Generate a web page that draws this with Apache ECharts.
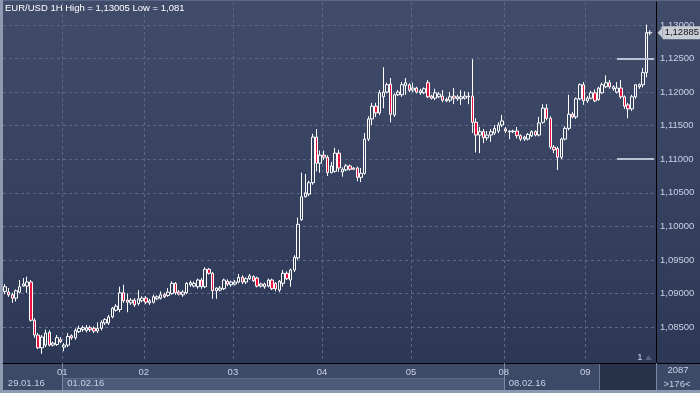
<!DOCTYPE html>
<html><head><meta charset="utf-8">
<script src="https://cdn.jsdelivr.net/npm/echarts@6/dist/echarts.min.js"></script>
<style>
html,body{margin:0;padding:0;background:#2c3856;}
#wrap{position:relative;width:700px;height:393px;overflow:hidden;}
.l{position:absolute;box-sizing:border-box;}
#chart{position:absolute;left:0;top:0;width:700px;height:393px;}
</style></head><body>
<div id="wrap">
<div class="l" style="left:0;top:0;width:700px;height:363px;background:linear-gradient(#404c6a,#2c3856);"></div>
<div class="l" style="left:0;top:363px;width:700px;height:30px;background:#3c4967;"></div>
<div class="l" style="left:62px;top:378px;width:442px;height:12px;background:#4b5a79;border-top:1px solid #5c6b89;"></div>
<div class="l" style="left:599px;top:364px;width:57px;height:26px;background:#27314a;border-left:1px solid #6b7894;"></div>
<div class="l" style="left:0;top:0;width:700px;height:1px;background:#5a6784;"></div>
<div class="l" style="left:0;top:0;width:3px;height:393px;background:#8d9ab2;"></div>
<div class="l" style="left:0;top:390px;width:700px;height:3px;background:#8d9ab2;"></div>
<div class="l" style="left:656px;top:359px;width:1px;height:31px;background:#000;"></div>
<div class="l" style="left:656px;top:363px;width:44px;height:1px;background:#000;"></div>
<div id="chart"></div>
</div>
<script>
// ---- data ----
const dayLabels = ['29','01','02','03','04','05','08','09'];
const dayBarCounts = [16,22,24,24,24,25,22,17];
const weekStartDays = ['29','01','08'];
const weekStartLabels = ['29.01.16','01.02.16','08.02.16'];

const opens = [
 1.0903,1.0902,1.0898,1.0893,1.0902,1.0911,1.0911,1.0917,1.0860,1.0838,1.0819,1.0823,1.0842,1.0823,1.0824,1.0831,
 1.0820,1.0823,1.0837,1.0834,1.0843,1.0846,1.0845,1.0849,1.0848,1.0844,1.0848,1.0856,1.0856,1.0865,1.0875,1.0876,1.0901,1.0890,1.0886,1.0890,1.0885,1.0889,
 1.0893,1.0886,1.0887,1.0892,1.0893,1.0898,1.0897,1.0900,1.0915,1.0902,1.0898,1.0901,1.0913,1.0911,1.0910,1.0920,1.0910,1.0936,1.0930,1.0904,1.0905,1.0907,1.0918,1.0913,
 1.0914,1.0917,1.0924,1.0917,1.0922,1.0925,1.0923,1.0911,1.0910,1.0911,1.0920,1.0915,1.0905,1.0915,1.0930,1.0920,1.0935,1.0953,1.1010,1.1044,1.1048,1.1065,1.1133,1.1094,
 1.1106,1.1103,1.1080,1.1082,1.1109,1.1081,1.1084,1.1090,1.1087,1.1087,1.1073,1.1079,1.1130,1.1160,1.1179,1.1169,1.1193,1.1200,1.1212,1.1166,1.1196,1.1196,1.1210,1.1211,
 1.1203,1.1206,1.1199,1.1199,1.1214,1.1194,1.1191,1.1193,1.1194,1.1187,1.1188,1.1194,1.1190,1.1190,1.1191,1.1193,1.1194,1.1155,1.1136,1.1141,1.1132,1.1136,1.1139,1.1142,1.1151,
 1.1145,1.1141,1.1141,1.1142,1.1135,1.1130,1.1130,1.1135,1.1141,1.1136,1.1155,1.1176,1.1161,1.1118,1.1116,1.1103,1.1130,1.1146,1.1167,1.1163,1.1190,1.1211,
 1.1187,1.1191,1.1199,1.1189,1.1199,1.1208,1.1214,1.1205,1.1200,1.1206,1.1193,1.1181,1.1175,1.1193,1.1208,1.1211,1.1229
];
const closes = [
 1.0910,1.0898,1.0893,1.0904,1.0910,1.0914,1.0917,1.0860,1.0838,1.0819,1.0835,1.0841,1.0823,1.0826,1.0834,1.0828,
 1.0823,1.0836,1.0834,1.0845,1.0848,1.0849,1.0849,1.0846,1.0844,1.0848,1.0857,1.0861,1.0865,1.0878,1.0881,1.0901,1.0889,1.0887,1.0890,1.0883,1.0892,1.0893,
 1.0887,1.0889,1.0895,1.0895,1.0898,1.0895,1.0902,1.0915,1.0901,1.0899,1.0902,1.0915,1.0916,1.0915,1.0920,1.0910,1.0936,1.0930,1.0904,1.0908,1.0908,1.0920,1.0914,1.0917,
 1.0917,1.0924,1.0917,1.0922,1.0926,1.0919,1.0911,1.0914,1.0914,1.0920,1.0907,1.0907,1.0918,1.0930,1.0922,1.0935,1.0954,1.1003,1.1044,1.1050,1.1065,1.1133,1.1094,1.1106,
 1.1103,1.1080,1.1090,1.1109,1.1087,1.1085,1.1090,1.1085,1.1085,1.1073,1.1079,1.1130,1.1160,1.1179,1.1169,1.1199,1.1200,1.1211,1.1167,1.1196,1.1200,1.1211,1.1214,1.1203,
 1.1206,1.1200,1.1202,1.1205,1.1193,1.1191,1.1199,1.1197,1.1188,1.1189,1.1193,1.1191,1.1193,1.1193,1.1194,1.1194,1.1155,1.1136,1.1141,1.1132,1.1136,1.1141,1.1146,1.1151,1.1157,
 1.1142,1.1142,1.1142,1.1135,1.1130,1.1133,1.1137,1.1141,1.1136,1.1154,1.1176,1.1161,1.1118,1.1114,1.1103,1.1130,1.1146,1.1167,1.1163,1.1190,1.1211,1.1187,
 1.1191,1.1199,1.1187,1.1206,1.1211,1.1214,1.1208,1.1208,1.1206,1.1193,1.1179,1.1175,1.1193,1.1211,1.1211,1.1229,1.12885
];
const lows = [
 1.0899,1.0895,1.0886,1.0888,1.0900,1.0910,1.0901,1.0858,1.0834,1.0817,1.0810,1.0820,1.0821,1.0821,1.0822,1.0826,
 1.0814,1.0820,1.0831,1.0831,1.0841,1.0843,1.0842,1.0843,1.0841,1.0841,1.0845,1.0853,1.0853,1.0863,1.0873,1.0872,1.0886,1.0872,1.0883,1.0880,1.0882,1.0887,
 1.0884,1.0883,1.0885,1.0890,1.0891,1.0893,1.0895,1.0898,1.0898,1.0897,1.0895,1.0899,1.0910,1.0909,1.0907,1.0907,1.0908,1.0928,1.0892,1.0892,1.0903,1.0905,1.0911,1.0910,
 1.0912,1.0915,1.0914,1.0914,1.0920,1.0917,1.0909,1.0909,1.0907,1.0909,1.0905,1.0903,1.0902,1.0910,1.0920,1.0910,1.0932,1.0950,1.1008,1.1043,1.1045,1.1062,1.1082,1.1080,
 1.1099,1.1075,1.1079,1.1080,1.1081,1.1074,1.1082,1.1083,1.1084,1.1067,1.1066,1.1077,1.1127,1.1151,1.1163,1.1166,1.1176,1.1198,1.1155,1.1163,1.1194,1.1193,1.1196,1.1200,
 1.1200,1.1198,1.1196,1.1197,1.1191,1.1189,1.1188,1.1191,1.1185,1.1185,1.1185,1.1182,1.1187,1.1181,1.1189,1.1182,1.1139,1.1110,1.1109,1.1124,1.1128,1.1126,1.1136,1.1139,1.1148,
 1.1139,1.1130,1.1139,1.1131,1.1127,1.1127,1.1128,1.1133,1.1134,1.1134,1.1153,1.1158,1.1115,1.1109,1.1084,1.1100,1.1128,1.1143,1.1161,1.1160,1.1188,1.1181,
 1.1184,1.1189,1.1185,1.1187,1.1197,1.1206,1.1205,1.1202,1.1198,1.1190,1.1175,1.1161,1.1172,1.1190,1.1205,1.1207,1.1222
];
const highs = [
 1.0914,1.0908,1.0901,1.0906,1.0920,1.0923,1.0925,1.0920,1.0863,1.0841,1.0838,1.0846,1.0845,1.0828,1.0838,1.0835,
 1.0826,1.0841,1.0839,1.0848,1.0852,1.0852,1.0853,1.0852,1.0851,1.0857,1.0860,1.0863,1.0868,1.0880,1.0884,1.0910,1.0913,1.0900,1.0893,1.0893,1.0905,1.0896,
 1.0896,1.0892,1.0898,1.0897,1.0903,1.0901,1.0908,1.0918,1.0917,1.0905,1.0905,1.0917,1.0919,1.0918,1.0922,1.0923,1.0939,1.0938,1.0932,1.0909,1.0911,1.0922,1.0921,1.0919,
 1.0920,1.0929,1.0927,1.0924,1.0929,1.0927,1.0925,1.0916,1.0916,1.0922,1.0922,1.0917,1.0920,1.0935,1.0933,1.0937,1.0957,1.1013,1.1080,1.1078,1.1068,1.1138,1.1145,1.1113,
 1.1113,1.1106,1.1096,1.1117,1.1114,1.1088,1.1093,1.1092,1.1088,1.1089,1.1087,1.1139,1.1164,1.1184,1.1184,1.1203,1.1237,1.1214,1.1221,1.1198,1.1203,1.1215,1.1221,1.1213,
 1.1214,1.1208,1.1205,1.1207,1.1218,1.1196,1.1205,1.1200,1.1203,1.1192,1.1200,1.1206,1.1196,1.1203,1.1201,1.1200,1.1249,1.1161,1.1148,1.1145,1.1142,1.1145,1.1151,1.1155,1.1166,
 1.1148,1.1143,1.1144,1.1148,1.1137,1.1135,1.1139,1.1143,1.1143,1.1163,1.1182,1.1182,1.1164,1.1121,1.1119,1.1132,1.1149,1.1196,1.1170,1.1192,1.1213,1.1215,
 1.1194,1.1202,1.1204,1.1208,1.1214,1.1225,1.1218,1.1210,1.1215,1.1218,1.1195,1.1184,1.1196,1.1212,1.1213,1.1236,1.13005
];
const levelLines = [1.125, 1.11];
const lastPrice = 1.12885;
const titleText = 'EUR/USD 1H High = 1,13005 Low = 1,081';
const barsTotalText = '2087';
const barsVisibleText = '>176<';

// ---- build ----
const categories = [];
const dayStartIdx = [];
dayLabels.forEach((d, di) => {
  dayStartIdx.push(categories.length);
  for (let k = 0; k < dayBarCounts[di]; k++) categories.push(d + '/' + k);
});
categories.push('pad/1', 'pad/2');
const weekStartIdx = weekStartDays.map(d => dayStartIdx[dayLabels.indexOf(d)]);
const lastIdx = opens.length - 1;
const candles = opens.map((o, i) => [o, closes[i], lows[i], highs[i]]);
const fmt = v => v.toFixed(5).replace('.', ',');

const FONT = "'Liberation Sans',Arial,sans-serif";
const FS = 9.5;
const LBL = '#c8d2e6';
const GRIDC = '#5b6988';

const chart = echarts.init(document.getElementById('chart'));
chart.setOption({
  animation: false,
  title: { text: titleText, left: 5, top: 3, padding: 0, textStyle: { color: '#ffffff', fontSize: FS, fontWeight: 'normal', fontFamily: FONT } },
  grid: { left: 3, right: 44, top: 2, bottom: 33 },
  xAxis: [{
    type: 'category', data: categories, boundaryGap: true, offset: 3,
    axisLine: { lineStyle: { color: '#000', width: 1 } },
    axisTick: { show: true, interval: (i) => weekStartIdx.indexOf(i) > 0, length: 27, lineStyle: { color: '#7c89a4' } },
    axisLabel: { interval: (i) => dayStartIdx.indexOf(i) > 0, formatter: v => v.split('/')[0], color: LBL, fontSize: FS, margin: 4, fontFamily: FONT, padding: [0, 4, 0, 0], hideOverlap: false },
    splitLine: { show: true, interval: (i) => dayStartIdx.indexOf(i) > 0, lineStyle: { color: GRIDC, type: [3, 3] } }
  }, {
    type: 'category', data: categories, position: 'bottom', offset: 14, boundaryGap: true,
    axisLine: { show: false }, axisTick: { show: false }, splitLine: { show: false },
    axisLabel: { interval: (i) => weekStartIdx.indexOf(i) >= 0, formatter: v => weekStartLabels[weekStartDays.indexOf(v.split('/')[0])] || '', align: 'left', color: LBL, fontSize: FS, margin: 4, fontFamily: FONT, padding: [0, 0, 0, 3], hideOverlap: false }
  }],
  yAxis: {
    type: 'value', position: 'right', min: 1.080083, max: 1.133427, splitNumber: 10, scale: true,
    axisLine: { show: true, lineStyle: { color: '#000' } }, axisTick: { show: false },
    axisLabel: { formatter: fmt, color: LBL, fontSize: FS, fontFamily: FONT, margin: 4, showMinLabel: false, showMaxLabel: false },
    splitLine: { show: true, showMinLine: false, showMaxLine: false, lineStyle: { color: GRIDC, type: [3, 3] } }
  },
  series: [{
    type: 'candlestick', data: candles, barWidth: 3,
    itemStyle: { color: 'transparent', color0: '#e8123c', borderColor: '#ffffff', borderColor0: '#ffffff', borderWidth: 1 },
    markLine: {
      silent: true, symbol: ['none', 'none'], animation: false,
      data: levelLines.map(v => [
        { coord: [165, v], lineStyle: { color: '#b9c3d5', width: 2, type: 'solid' }, label: { show: false } },
        { coord: [175, v] }
      ])
    },
    markPoint: {
      silent: true, animation: false,
      data: [
        { coord: [lastIdx, lastPrice], symbol: 'path://M2 0h1v2h2v1h-2v2h-1v-2h-2v-1h2z', symbolSize: 5, symbolOffset: [3, 0], itemStyle: { color: '#ffffff' }, label: { show: false } },
        { coord: [categories.length - 1, lastPrice], symbol: 'path://M0 5L5 0L5 10Z', symbolSize: [5, 11], symbolOffset: [6, 0], itemStyle: { color: '#c8cdd5' },
          label: { show: true, position: 'right', distance: 0, formatter: () => fmt(lastPrice), color: '#111111', backgroundColor: '#c8cdd5', fontSize: FS, fontFamily: FONT, padding: [2, 2, 1, 2] } }
      ]
    }
  }],
  graphic: [
    { type: 'text', x: 678, y: 370, style: { text: barsTotalText, fill: LBL, font: FS + 'px ' + FONT, align: 'center', verticalAlign: 'middle', textAlign: 'center', textVerticalAlign: 'middle' } },
    { type: 'text', x: 677, y: 384, style: { text: barsVisibleText, fill: LBL, font: FS + 'px ' + FONT, align: 'center', verticalAlign: 'middle', textAlign: 'center', textVerticalAlign: 'middle' } },
    { type: 'text', x: 640, y: 357, style: { text: '1', fill: LBL, font: FS + 'px ' + FONT, align: 'center', verticalAlign: 'middle', textAlign: 'center', textVerticalAlign: 'middle' } },
    { type: 'polygon', shape: { points: [[645, 360], [652, 360], [648.5, 355]] }, style: { fill: '#56637e' } }
  ]
});
</script>
</body></html>
